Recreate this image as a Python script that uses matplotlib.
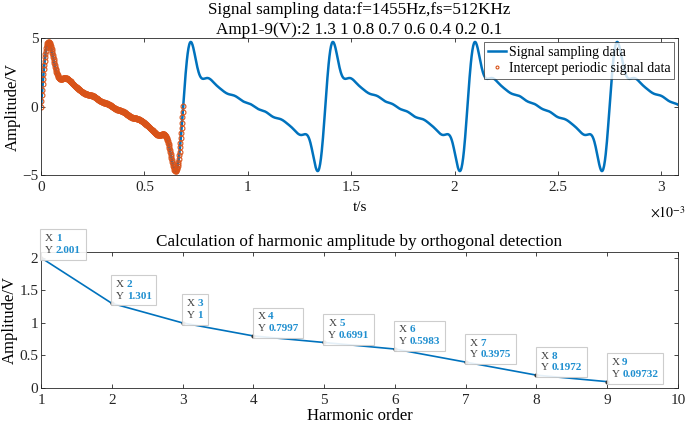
import numpy as np
import matplotlib
matplotlib.use('Agg')
import matplotlib.pyplot as plt
from matplotlib.offsetbox import TextArea, HPacker, VPacker, AnnotationBbox
from matplotlib.ticker import FuncFormatter

plt.rcParams['font.family'] = ['Liberation Serif', 'DejaVu Serif']
plt.rcParams['mathtext.fontset'] = 'stix'
plt.rcParams['axes.linewidth'] = 0.6
plt.rcParams['axes.edgecolor'] = '#262626'
plt.rcParams['xtick.direction'] = 'in'
plt.rcParams['ytick.direction'] = 'in'
plt.rcParams['xtick.top'] = True
plt.rcParams['ytick.right'] = True
plt.rcParams['xtick.color'] = '#262626'
plt.rcParams['ytick.color'] = '#262626'

# signal settings and harmonic amplitudes (from the title)
f_sig = 1455.0
fs = 512e3
n_samples = 1578
amps_set = [2, 1.3, 1, 0.8, 0.7, 0.6, 0.4, 0.2, 0.1]

# detected harmonic amplitudes (data tips)
orders = [1, 2, 3, 4, 5, 6, 7, 8, 9]
amps_det = [2.001, 1.301, 1, 0.7997, 0.6991, 0.5983, 0.3975, 0.1972, 0.09732]
tip_labels = ['2.001', '1.301', '1', '0.7997', '0.6991', '0.5983', '0.3975', '0.1972', '0.09732']

blue = '#0072BD'
orange = '#D95319'
tipblue = '#1f8fd0'

t = np.arange(n_samples) / fs
sig = np.zeros_like(t)
for k, a in enumerate(amps_set, start=1):
    sig += a * np.sin(2 * np.pi * k * f_sig * t)
n_per = int(round(fs / f_sig)) + 1

fig = plt.figure(figsize=(6.85, 4.28), dpi=100)

ax1 = fig.add_axes([0.0599, 0.5911, 0.9299, 0.3201])
ax1.plot(t, sig, color=blue, lw=1.8, label='Signal sampling data')
ax1.plot(t[:n_per], sig[:n_per], 'o', ms=3.5, mfc='none', mec=orange, mew=0.8,
         label='Intercept periodic signal data')
ax1.set_xlim(0, t[-1])
ax1.set_ylim(-5, 5)
ax1.set_yticks([-5, 0, 5])
ax1.set_xticks(np.arange(0, 3.01e-3, 0.5e-3))
ax1.xaxis.set_major_formatter(FuncFormatter(lambda v, p: '{:g}'.format(round(v * 1e3, 3))))
ax1.tick_params(labelsize=11, length=3, width=0.6)
ax1.tick_params(axis='x', pad=4)
ax1.tick_params(axis='y', pad=2)
ax1.text(0.984, -0.277, r'$\times 10^{-3}$', transform=ax1.transAxes, ha='center', va='center',
         fontsize=10)
ax1.set_xlabel('t/s', fontsize=11, labelpad=5)
ax1.set_ylabel('Amplitude/V', fontsize=12, labelpad=1)
ax1.set_title('Signal sampling data:f=1455Hz,fs=512KHz\nAmp1-9(V):2 1.3 1 0.8 0.7 0.6 0.4 0.2 0.1',
              fontsize=12.3, pad=1, linespacing=1.3)
leg = ax1.legend(loc='upper right', fontsize=10, frameon=True, fancybox=False,
                 edgecolor='#262626', borderpad=0.25, handlelength=1.3, markerscale=0.6,
                 handletextpad=0.2, labelspacing=0.25, borderaxespad=0.3)
leg.get_frame().set_linewidth(0.6)

ax2 = fig.add_axes([0.0599, 0.0935, 0.9299, 0.3178])
ax2.plot(orders, amps_det, color=blue, lw=1.2, marker='.', ms=4, mfc='#333333', mec='#333333')
ax2.set_xlim(1, 10)
ax2.set_ylim(0, 2.09)
ax2.set_xticks(range(1, 11))
ax2.set_yticks([0, 0.5, 1, 1.5, 2])
ax2.set_yticklabels(['0', '0.5', '1', '1.5', '2'])
ax2.tick_params(labelsize=11, length=3, width=0.6)
ax2.tick_params(axis='x', pad=4)
ax2.tick_params(axis='y', pad=2)
ax2.set_xlabel('Harmonic order', fontsize=12, labelpad=1)
ax2.set_ylabel('Amplitude/V', fontsize=12, labelpad=1)
ax2.set_title('Calculation of harmonic amplitude by orthogonal detection', fontsize=12.3, pad=4)

for x, y, lab in zip(orders, amps_det, tip_labels):
    rows = []
    for name, val in (('X', str(x)), ('Y', lab)):
        rows.append(HPacker(children=[
            TextArea(name, textprops=dict(color='#404040', fontsize=8)),
            TextArea(val, textprops=dict(color=tipblue, fontsize=8, fontweight='bold'))],
            align='baseline', pad=0, sep=2))
    box = VPacker(children=rows, align='left', pad=0, sep=2)
    ab = AnnotationBbox(box, (x, y), xybox=(3, 2), xycoords='data',
                        boxcoords='offset points', box_alignment=(0, 0),
                        frameon=True, pad=0.35,
                        bboxprops=dict(facecolor='white', edgecolor='#c8c8c8', lw=0.8, alpha=0.9))
    ax2.add_artist(ab)

fig.savefig('out.png', dpi=100)
